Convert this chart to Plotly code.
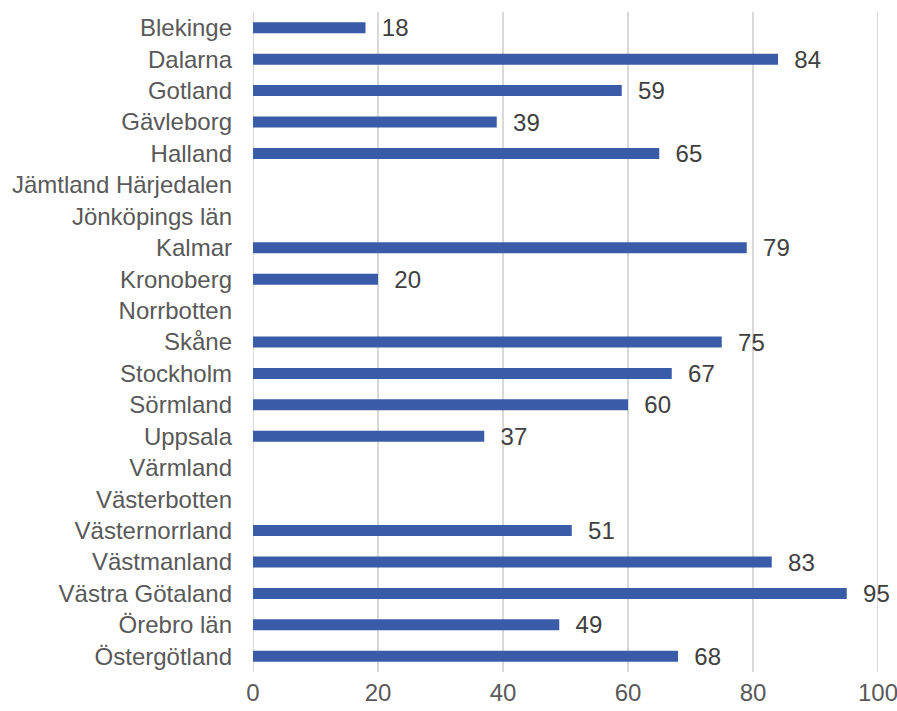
import plotly.graph_objects as go

categories = ["Blekinge", "Dalarna", "Gotland", "Gävleborg", "Halland", "Jämtland Härjedalen",
              "Jönköpings län", "Kalmar", "Kronoberg", "Norrbotten", "Skåne", "Stockholm",
              "Sörmland", "Uppsala", "Värmland", "Västerbotten", "Västernorrland", "Västmanland",
              "Västra Götaland", "Örebro län", "Östergötland"]
values = [18, 84, 59, 39, 65, None, None, 79, 20, None, 75, 67, 60, 37, None, None, 51, 83, 95, 49, 68]
labels = ["\u00a0\u00a0" + str(v) if v is not None else "" for v in values]
tick_vals = [0, 20, 40, 60, 80, 100]
x_range = [0, 100]

FONT = "Liberation Sans, Arial, sans-serif"
GRID = "#d9d9d9"

fig = go.Figure(go.Bar(
    y=categories, x=values, orientation="h",
    marker=dict(color="#3a5ca8", line=dict(width=0)),
    text=labels, textposition="outside", cliponaxis=False, constraintext="none",
    textfont=dict(family=FONT, size=24, color="#404040"),
))
fig.update_layout(
    width=897, height=711,
    paper_bgcolor="white", plot_bgcolor="white",
    margin=dict(l=253, r=19, t=12, b=39, autoexpand=False),
    bargap=0.65,
    showlegend=False,
    font=dict(family=FONT, size=24, color="#595959"),
)
# edge gridlines (plotly drops grid lines at the range ends)
for xv in x_range:
    fig.add_shape(type="line", xref="x", yref="paper", x0=xv, x1=xv, y0=0, y1=1,
                  line=dict(color=GRID, width=2), layer="below")
fig.update_xaxes(range=x_range, tickvals=tick_vals, showgrid=True, gridcolor=GRID,
                 gridwidth=2, zeroline=False, showline=False, ticks="", ticklen=0,
                 ticklabelstandoff=4, ticklabeloverflow="allow",
                 tickfont=dict(family=FONT, size=24, color="#595959"))
fig.update_yaxes(autorange="reversed", categoryorder="array", categoryarray=categories,
                 showgrid=False, zeroline=False, showline=False, ticks="", ticklen=0,
                 ticklabelstandoff=20,
                 tickfont=dict(family=FONT, size=24, color="#595959"))
post = ("document.body.style.margin='0';"
        "document.querySelectorAll('.main-svg').forEach(function(s){s.style.overflow='visible';});")
fig.write_html("out.html", post_script=post, config={"displayModeBar": False})
